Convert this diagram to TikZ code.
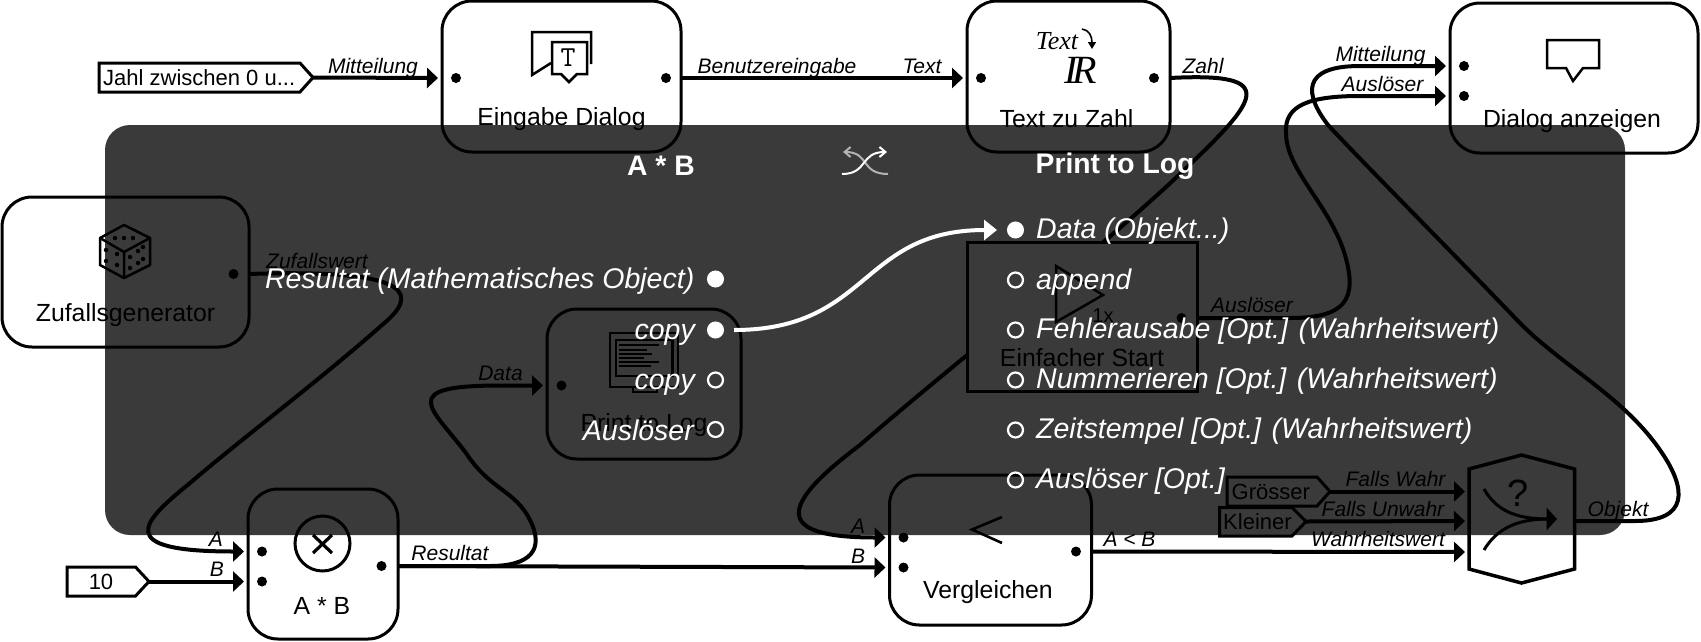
\documentclass[tikz,border=0pt]{standalone}
\usepackage{fontspec}
\setmainfont{Liberation Sans}
\newfontfamily\serifface{Liberation Serif}
\usetikzlibrary{arrows.meta,calc}
\pgfdeclarelayer{conn}
\pgfdeclarelayer{over}
\pgfsetlayers{conn,main,over}
\tikzset{
  blockbox/.style={draw=black,fill=white,line width=3pt,rounded corners=30pt,inner sep=0pt,outer sep=0pt},
  squarebox/.style={draw=black,fill=white,line width=3pt,inner sep=0pt,outer sep=0pt},
  pdot/.style={circle,fill=black,inner sep=0pt,minimum size=10pt,outer sep=0pt},
  blocklabel/.style={font=\fontsize{24.8}{28}\selectfont,inner sep=0pt,text=black},
  portlabel/.style={font=\fontsize{21}{24}\selectfont\itshape,inner sep=0pt,anchor=base,text=black},
  constlabel/.style={font=\fontsize{22}{25}\selectfont,inner sep=0pt,text=black},
  wire/.style={draw=black,line width=4pt,-{Triangle[length=11pt,width=20pt]}},
  wirein/.style={wire,shorten >=4pt},
  icon/.style={draw=black,line width=2.5pt},
  constshape/.style={draw=black,fill=white,line width=3pt},
  pip/.style={circle,fill=black,inner sep=0pt,minimum size=4.5pt},
  overhead/.style={font=\fontsize{28.3}{32}\selectfont\bfseries,text=white,inner sep=0pt},
  overport/.style={font=\fontsize{28.5}{32}\selectfont\itshape,text=white,inner sep=0pt},
  pfull/.style={circle,fill=white,draw=white,line width=2pt,inner sep=0pt,minimum size=15pt},
  popen/.style={circle,draw=white,line width=2.2pt,inner sep=0pt,minimum size=15pt},
}
\begin{document}
\begin{tikzpicture}[x=1pt,y=-1pt]
\useasboundingbox (0,0) rectangle (1701,641);

% ---------- blocks
\node[blockbox,minimum width=239pt,minimum height=151pt] (eingabe) at (561.5,76.5) {};
\node[pdot] (eingabeIn) at (456,78) {};
\node[pdot] (eingabeOut) at (666,78) {};
\node[blocklabel] (eingabeL) at (561.5,119) {Eingabe Dialog};

\node[blockbox,minimum width=203pt,minimum height=151pt] (tzz) at (1068.5,76.5) {};
\node[pdot] (tzzIn) at (981,78) {};
\node[pdot] (tzzOut) at (1154,78) {};
\node[blocklabel] (tzzL) at (1066.5,119) {Text zu Zahl};

\node[blockbox,minimum width=248pt,minimum height=150pt] (dialog) at (1574,78) {};
\node[pdot] (dialogA) at (1464,66) {};
\node[pdot] (dialogB) at (1464,96) {};
\node[blocklabel] (dialogL) at (1572,121) {Dialog anzeigen};

\node[blockbox,minimum width=247pt,minimum height=150pt] (zufall) at (125.5,272) {};
\node[pdot] (zufallOut) at (233.5,274) {};
\node[blocklabel] (zufallL) at (125.5,315) {Zufallsgenerator};

\node[blockbox,minimum width=150pt,minimum height=150pt] (mul) at (323,564) {};
\node[pdot] (mulA) at (262,551.5) {};
\node[pdot] (mulB) at (262,581.5) {};
\node[pdot] (mulOut) at (381.5,566) {};
\node[blocklabel] (mulL) at (322,606) {A * B};

\node[blockbox,minimum width=194pt,minimum height=150pt] (plog) at (644,384) {};
\node[pdot] (plogIn) at (561.5,385.5) {};
\node[blocklabel] (plogL) at (644,425) {Print to Log};

\node[squarebox,minimum width=230pt,minimum height=149pt] (start) at (1082,316.5) {};
\node[pdot] (startOut) at (1181.5,318) {};
\node[blocklabel] (startL) at (1082,358) {Einfacher Start};

\node[blockbox,minimum width=202pt,minimum height=150pt] (vgl) at (990.5,550) {};
\node[pdot] (vglA) at (903.5,537.5) {};
\node[pdot] (vglB) at (903.5,567.5) {};
\node[pdot] (vglOut) at (1076,551.5) {};
\node[blocklabel] (vglL) at (988,592.5) {Vergleichen};

% switch block
\draw[draw=black,fill=white,line width=3.5pt,line join=miter]
  (1521.5,455) -- (1574.5,469) -- (1574.5,569) -- (1521.5,583) -- (1469,569) -- (1469,469) -- cycle;
\coordinate (hexWahr) at (1469,491.5);
\coordinate (hexUnwahr) at (1469,521);
\coordinate (hexBool) at (1469,552);
\coordinate (hexOut) at (1574.5,521);
\node[font=\fontsize{38}{40}\selectfont,inner sep=0pt] (hexQ) at (1518,493) {?};
\draw[line width=3pt] (1484,489) .. controls (1496,510) and (1515,519) .. (1548,519);
\draw[line width=3pt] (1484,550) .. controls (1496,530) and (1515,519) .. (1548,519);
\fill (1546.5,507.5) -- (1557,519) -- (1546.5,530.5) -- cycle;

% constants
\draw[constshape] (99,63) -- (300,63) -- (313,77.5) -- (300,92) -- (99,92) -- cycle;
\node[constlabel,anchor=west] (jahl) at (103,78) {Jahl zwischen 0 u...};
\coordinate (jahlTip) at (313,77.5);
\draw[constshape] (67,567) -- (135.5,567) -- (149,581.5) -- (135.5,596) -- (67,596) -- cycle;
\node[constlabel] (zehn) at (101,581.5) {10};
\coordinate (zehnTip) at (149,581.5);
\draw[constshape] (1227,477) -- (1317,477) -- (1330,491.5) -- (1317,506) -- (1227,506) -- cycle;
\node[constlabel,anchor=west] (gross) at (1231.5,492) {Grösser};
\coordinate (grossTip) at (1330,491.5);
\draw[constshape] (1219.5,507.5) -- (1292,507.5) -- (1306,521.5) -- (1292,536) -- (1219.5,536) -- cycle;
\node[constlabel,anchor=west] (klein) at (1223,522) {Kleiner};
\coordinate (kleinTip) at (1306,521.5);

% ---------- icons
% input dialog
\draw[icon] (551,63) -- (532,75) -- (532,32) -- (591,32) -- (591,64);
\draw[icon,fill=white] (552,42) -- (587,42) -- (587,74) -- (577,74) -- (569,82) -- (561,74) -- (552,74) -- cycle;
\node[font=\fontsize{29}{30}\selectfont\ttfamily,inner sep=0pt] (iconT) at (568,58) {T};
% text to number
\node[font=\fontsize{26}{28}\selectfont\serifface\itshape,inner sep=0pt] (iconText) at (1057,41) {Text};
\draw[line width=1.6pt,-{Triangle[length=7pt,width=8pt]}] (1082,29) .. controls (1089,30) and (1092,36) .. (1092,49);
\node[font=\fontsize{40}{42}\selectfont\serifface\itshape,inner sep=0pt] (iconR) at (1081,70) {I\kern-.13emR};
% show dialog
\draw[icon] (1547,40) -- (1599,40) -- (1599,68) -- (1583,68) -- (1573,81) -- (1566,68) -- (1547,68) -- cycle;
% dice
\draw[icon,line join=round] (124,225) -- (150,238) -- (150,265) -- (124,278) -- (100,265) -- (100,238) -- cycle;
\draw[icon] (100,238) -- (124,252) -- (150,238) (124,252) -- (124,278);
\foreach \p/\q in {115/238,124/238,133/238,106/250,117/254,106/261,117/265,130/257,138/251,143/247,130/268,138/263,143/259}
  \node[pip] (pip\p\q) at (\p,\q) {};
% multiply
\draw[line width=3pt] (322.5,543.5) circle (27.5pt);
\draw[line width=3.2pt] (313,535) -- (332,553) (332,535) -- (313,553);
% log monitor
\draw[line width=2.5pt] (610,333) rectangle (678,387);
\draw[line width=2.5pt] (616,340) rectangle (672.5,376);
\draw[line width=2.5pt] (633,387) -- (633,392) -- (657,392) -- (657,387);
\foreach \yy/\xe in {345/659,350/647,354/652,358/644,362/659,366/651}
  \draw[line width=1.8pt] (619,\yy) -- (\xe,\yy);
% start
\draw[icon] (1056,266) -- (1103,295) -- (1056,322) -- cycle;
\node[font=\fontsize{20}{22}\selectfont,inner sep=0pt] (iconX) at (1103,316) {1x};
% compare
\draw[line width=2.6pt] (1002,517) -- (972,529.5) -- (1002,543);

% ---------- port labels
\node[portlabel] (lMit1) at (373,73) {Mitteilung};
\node[portlabel] (lBen) at (777,73) {Benutzereingabe};
\node[portlabel] (lTxt) at (922,73) {Text};
\node[portlabel] (lZahl) at (1203,73) {Zahl};
\node[portlabel] (lMit2) at (1380.5,61) {Mitteilung};
\node[portlabel] (lAus1) at (1382.5,91) {Auslöser};
\node[portlabel] (lZuf) at (317,268) {Zufallswert};
\node[portlabel] (lData) at (500.5,380) {Data};
\node[portlabel] (lAus2) at (1252,312) {Auslöser};
\node[portlabel] (lA1) at (216,546.5) {A};
\node[portlabel] (lB1) at (217,576) {B};
\node[portlabel] (lRes) at (450,560.5) {Resultat};
\node[portlabel] (lA2) at (858,533) {A};
\node[portlabel] (lB2) at (858,563) {B};
\node[portlabel] (lAB) at (1129.5,546.5) {A < B};
\node[portlabel] (lFW) at (1395.5,486) {Falls Wahr};
\node[portlabel] (lFU) at (1383,516.5) {Falls Unwahr};
\node[portlabel] (lWW) at (1378,546.5) {Wahrheitswert};
\node[portlabel] (lObj) at (1618,516.5) {Objekt};

% ---------- connectors
\begin{pgfonlayer}{conn}
\fill[white] (0,0) rectangle (1701,641);
\draw[wirein] (jahlTip) -- (eingabe.west |- eingabeIn);
\draw[wirein] (eingabe.east |- eingabeOut) -- (tzz.west |- tzzIn);
\draw[wirein] (zehnTip) -- (mul.west |- mulB);
\draw[wirein] (mul.east |- mulOut) -- (vgl.west |- vglB);
\draw[wirein] (vgl.east |- vglOut) -- (hexBool);
\draw[wirein] (grossTip) -- (hexWahr);
\draw[wirein] (kleinTip) -- (hexUnwahr);
% Zahl -> A (compare)
\draw[wirein] (tzz.east |- tzzOut) .. controls (1282,72) and (1258,100) .. (1181,173)
   .. controls (1100,250) and (960,358) .. (860,445)
   .. controls (780,505) and (772,537.5) .. (vgl.west |- vglA);
% Zufallswert -> A (multiply)
\draw[wirein] (zufall.east |- zufallOut) .. controls (425,268) and (415,298) .. (382,325)
   .. controls (320,380) and (240,440) .. (190,483)
   .. controls (142,522) and (112,551.5) .. (mul.west |- mulA);
% Resultat -> Data
\draw[wirein] (mul.east |- mulOut) -- (490,566) .. controls (530,566) and (545,550) .. (530,520)
   .. controls (515,490) and (490,490) .. (466,453)
   .. controls (432,408) and (395,385.5) .. (500,385.5) -- (plog.west |- plogIn);
% Ausloeser -> dialog
\draw[wirein] (start.east |- startOut) -- (1290,318) .. controls (1345,318) and (1358,300) .. (1345,255)
   .. controls (1330,205) and (1286,170) .. (1286,133)
   .. controls (1284,105) and (1310,96) .. (1360,96) -- (dialog.west |- dialogB);
% Objekt -> Mitteilung
\draw[wirein] (hexOut) -- (1635,521) .. controls (1688,521) and (1688,490) .. (1660,450)
   .. controls (1622,395) and (1560,365) .. (1517,320)
   .. controls (1450,250) and (1370,170) .. (1328,125)
   .. controls (1305,95) and (1300,66) .. (1360,66) -- (dialog.west |- dialogA);
\end{pgfonlayer}

% ---------- overlay panel
\begin{pgfonlayer}{over}
\fill[black,opacity=.773,rounded corners=25pt] (105,125) rectangle (1625,535);
\node[overhead] (hA) at (661,166) {A * B};
\node[overhead] (hB) at (1115,166) {Print to Log};
% swap icon
\draw[white!45!black!55,line width=2pt,-{Straight Barb[length=6pt,width=10pt]}] (888,174) .. controls (860,174) and (870,152) .. (843,152);
\draw[white,line width=2pt,-{Straight Barb[length=6pt,width=10pt]}] (842,174) .. controls (868,174) and (860,152) .. (887,152);
% left side
\node[pfull] (pL1) at (715.5,279) {};
\node[pfull] (pL2) at (715.5,330) {};
\node[popen] (pL3) at (715.5,380) {};
\node[popen] (pL4) at (715.5,429.5) {};
\node[overport,anchor=east] (tL1) at (694.5,281) {Resultat (Mathematisches Object)};
\node[overport,anchor=east] (tL2) at (695,335) {copy};
\node[overport,anchor=east] (tL3) at (695,385) {copy};
\node[overport,anchor=east] (tL4) at (694,430) {Auslöser};
% right side
\node[pfull] (pR1) at (1015.5,230) {};
\node[popen] (pR2) at (1015.5,280) {};
\node[popen] (pR3) at (1015.5,330) {};
\node[popen] (pR4) at (1015.5,380) {};
\node[popen] (pR5) at (1015.5,430) {};
\node[popen] (pR6) at (1015.5,480) {};
\node[overport,anchor=west] (tR1) at (1036,231.5) {Data (Objekt...)};
\node[overport,anchor=west] (tR2) at (1036,282) {append};
\node[overport,anchor=west] (tR3) at (1036,331.5) {Fehlerausabe [Opt.] (Wahrheitswert)};
\node[overport,anchor=west] (tR4) at (1036,381.5) {Nummerieren [Opt.] (Wahrheitswert)};
\node[overport,anchor=west] (tR5) at (1036,431.5) {Zeitstempel [Opt.] (Wahrheitswert)};
\node[overport,anchor=west] (tR6) at (1036,481.5) {Auslöser [Opt.]};
\draw[draw=white,line width=4pt,-{Triangle[length=13pt,width=20pt]},shorten <=10pt,shorten >=10pt] (pL2) .. controls (870,330) and (860,230) .. (pR1);
\end{pgfonlayer}
\end{tikzpicture}
\end{document}
